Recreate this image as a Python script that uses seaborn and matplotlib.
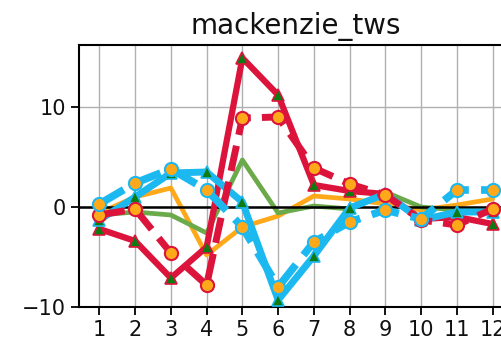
import matplotlib
matplotlib.use("Agg")
import matplotlib.pyplot as plt
import seaborn as sns
import numpy as np

months = [1, 2, 3, 4, 5, 6, 7, 8, 9, 10, 11, 12]
red_solid = [-2.2, -3.4, -7.1, -4.0, 14.9, 11.2, 2.2, 1.6, 1.3, -1.2, -1.0, -1.7]
red_dashed = [-0.8, -0.2, -4.6, -7.8, 8.9, 9.0, 3.9, 2.3, 1.2, -1.3, -1.8, -0.2]
orange_line = [-0.6, 1.0, 1.9, -4.8, -2.0, -0.9, 1.1, 0.8, 0.3, -0.3, 0.2, 0.8]
green_line = [-0.8, -0.5, -0.8, -2.6, 4.7, -0.6, 0.1, -0.2, 1.5, 0.0, -0.3, -0.3]
blue_solid = [-1.3, 1.0, 3.4, 3.5, 0.5, -9.3, -4.9, -0.1, 1.3, -1.3, -0.5, -0.5]
blue_dashed = [0.3, 2.4, 3.8, 1.7, -2.0, -8.0, -3.5, -1.5, -0.3, -1.2, 1.7, 1.7]
title = "mackenzie_tws"

sns.set_style("ticks")
plt.rcParams["font.family"] = ["DejaVu Sans"]
plt.rcParams["text.color"] = "#111111"
plt.rcParams["xtick.color"] = "#111111"
plt.rcParams["ytick.color"] = "#111111"

fig = plt.figure(figsize=(5.02, 3.43), dpi=100)
ax = fig.add_axes([79 / 502, 36 / 343, 434 / 502, 262 / 343])

red = "#DC143C"
blue = "#1CB8F0"
orange = "#FFA91A"
green = "#6AAA4A"
tri = "#0E7A12"
circ = "#FFA91A"

sns.lineplot(x=months, y=orange_line, ax=ax, color=orange, lw=3.4, zorder=2)
sns.lineplot(x=months, y=green_line, ax=ax, color=green, lw=3.4, zorder=2)
ax.axhline(0, color="black", lw=1.8, zorder=2.5)
sns.lineplot(x=months, y=red_solid, ax=ax, color=red, lw=4.5, marker="^",
             markersize=8.5, markerfacecolor=tri, markeredgecolor=red,
             markeredgewidth=1.2, zorder=3)
sns.lineplot(x=months, y=blue_solid, ax=ax, color=blue, lw=5, marker="^",
             markersize=8.5, markerfacecolor=tri, markeredgecolor=blue,
             markeredgewidth=1.2, zorder=3)
sns.lineplot(x=months, y=red_dashed, ax=ax, color=red, lw=5, linestyle="--",
             marker="o", markersize=9.5, markerfacecolor=circ,
             markeredgecolor=red, markeredgewidth=1.5, zorder=4)
sns.lineplot(x=months, y=blue_dashed, ax=ax, color=blue, lw=5.5, linestyle="--",
             marker="o", markersize=9.5, markerfacecolor=circ,
             markeredgecolor=blue, markeredgewidth=1.5, zorder=4)

ax.set_xlim(0.43, 12.57)
ax.set_ylim(-10, 16.2)
ax.set_xticks(months)
ax.set_xticklabels([str(m) for m in months])
ax.set_yticks([-10, 0, 10])
ax.grid(True, color="#b0b0b0", lw=1.0)
ax.set_axisbelow(True)
ax.tick_params(axis="both", labelsize=15, length=6, width=1.3, color="black")
for s in ax.spines.values():
    s.set_color("black")
    s.set_linewidth(1.5)
ax.set_title(title, fontsize=20, pad=8)
ax.set_xlabel("")
ax.set_ylabel("")

fig.savefig("out.png", dpi=100)
